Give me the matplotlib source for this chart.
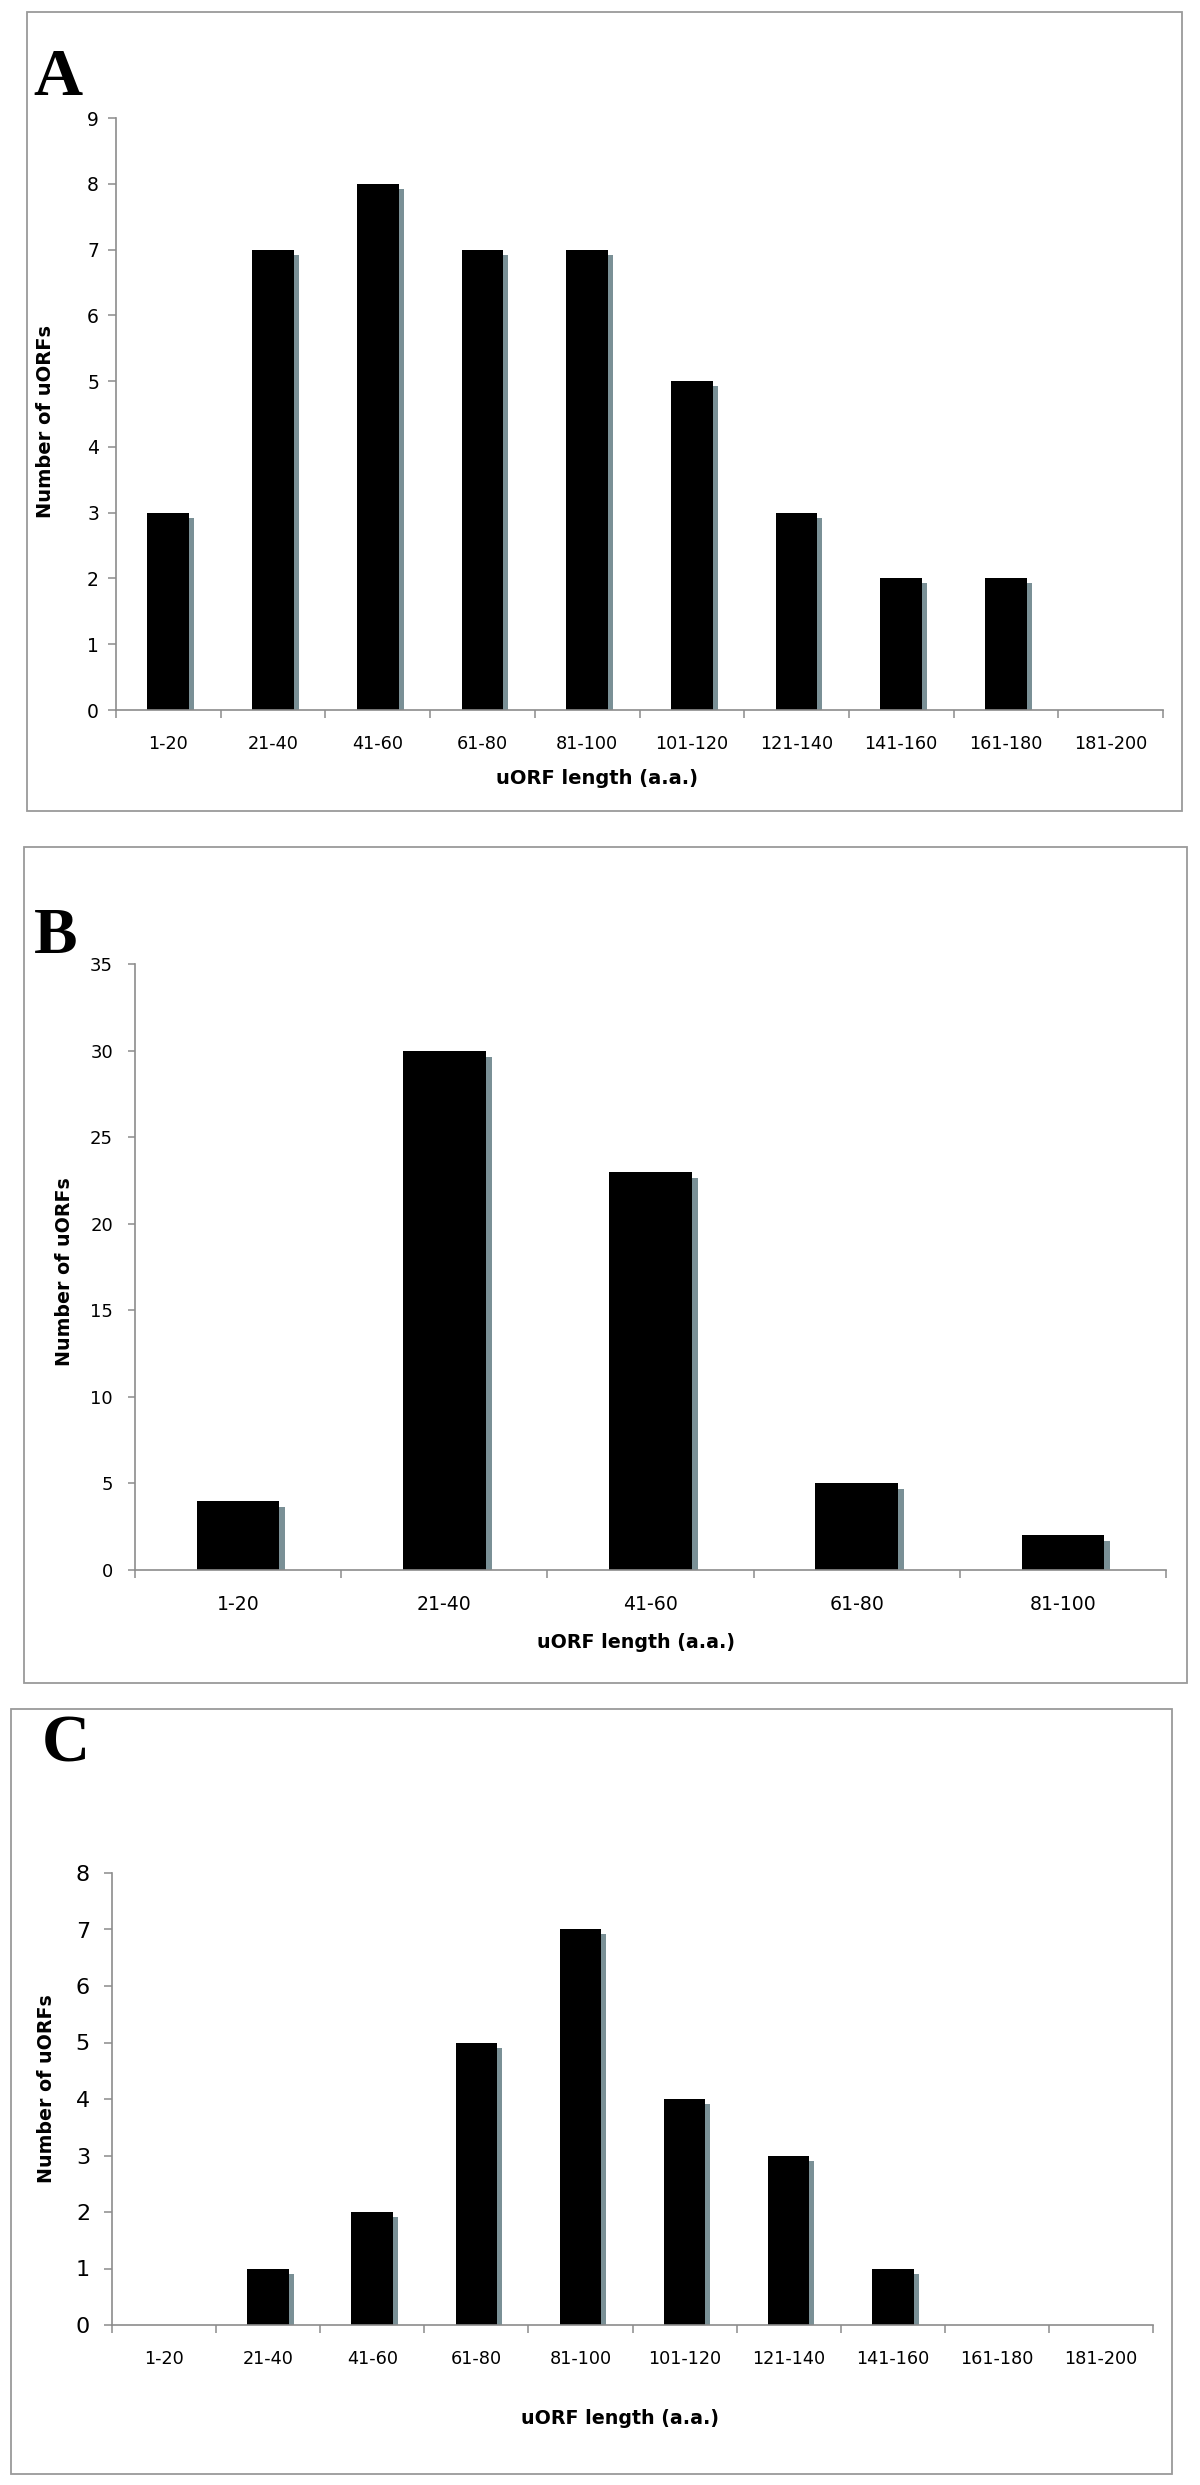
import matplotlib
matplotlib.use("Agg")
import matplotlib.pyplot as plt
from matplotlib.patches import Rectangle
from matplotlib.transforms import offset_copy
import numpy as np

W, H = 1200, 2485
DPI = 100

cats10 = ["1-20", "21-40", "41-60", "61-80", "81-100", "101-120",
          "121-140", "141-160", "161-180", "181-200"]
cats5 = ["1-20", "21-40", "41-60", "61-80", "81-100"]

values_A = [3, 7, 8, 7, 7, 5, 3, 2, 2, 0]
values_B = [4, 30, 23, 5, 2]
values_C = [0, 1, 2, 5, 7, 4, 3, 1, 0, 0]

yticks_A = list(range(0, 10, 1))
yticks_B = list(range(0, 40, 5))
yticks_C = list(range(0, 9, 1))

xlabel_text = "uORF length (a.a.)"
ylabel_text = "Number of uORFs"

fig = plt.figure(figsize=(W / DPI, H / DPI), dpi=DPI)

GRAY = "#8c8c8c"
SHADOW = "#7a9096"


def fx(x):
    return x / W


def fy(y):
    return 1 - y / H


def box(x0, y0, x1, y1):
    r = Rectangle((fx(x0), fy(y1)), fx(x1) - fx(x0), fy(y0) - fy(y1),
                  transform=fig.transFigure, fill=False, edgecolor="#9a9a9a",
                  linewidth=1.3)
    fig.patches.append(r)


def panel(letter, letter_xy, letter_size, outer, axpx, cats, vals, yticks,
          xtick_fs, ytick_fs, ypad, ytlen, label_fs, ylabel_xy, xlabel_xy,
          shadow_off):
    box(*outer)
    x0, y0, x1, y1 = axpx
    ax = fig.add_axes([fx(x0), fy(y1), fx(x1) - fx(x0), fy(y0) - fy(y1)])
    n = len(cats)
    xs = np.arange(n)
    sh = offset_copy(ax.transData, fig=fig, x=shadow_off, y=-shadow_off,
                     units="dots")
    ax.bar(xs, vals, width=0.4, color=SHADOW, transform=sh, zorder=1)
    ax.bar(xs, vals, width=0.4, color="black", zorder=2)
    ax.set_xlim(-0.5, n - 0.5)
    ax.set_ylim(yticks[0], yticks[-1])
    for s in ["top", "right"]:
        ax.spines[s].set_visible(False)
    for s in ["left", "bottom"]:
        ax.spines[s].set_color(GRAY)
        ax.spines[s].set_linewidth(1.2)
    ax.set_yticks(yticks)
    ax.set_yticklabels([str(t) for t in yticks], fontsize=ytick_fs,
                       fontfamily="DejaVu Sans")
    ax.set_xticks(np.arange(-0.5, n, 1.0))
    ax.set_xticklabels([])
    ax.set_xticks(xs, minor=True)
    ax.set_xticklabels(cats, minor=True, fontsize=xtick_fs,
                       fontfamily="DejaVu Sans")
    ax.tick_params(axis="y", direction="out", length=ytlen * 72 / DPI,
                   width=1.1, color=GRAY, pad=ypad * 72 / DPI)
    ax.tick_params(axis="x", which="major", direction="out", length=5.5,
                   width=1.1, color=GRAY)
    ax.tick_params(axis="x", which="minor", length=0, pad=18)
    ax.set_facecolor("none")
    fig.text(fx(letter_xy[0]), fy(letter_xy[1]), letter,
             fontsize=letter_size, fontweight="bold",
             fontfamily="Liberation Serif", ha="left", va="baseline")
    fig.text(fx(ylabel_xy[0]), fy(ylabel_xy[1]), ylabel_text, rotation=90,
             fontsize=label_fs, fontweight="bold", fontfamily="DejaVu Sans",
             ha="center", va="center")
    fig.text(fx(xlabel_xy[0]), fy(xlabel_xy[1]), xlabel_text,
             fontsize=label_fs, fontweight="bold", fontfamily="DejaVu Sans",
             ha="center", va="center")
    return ax


panel("A", (33, 95), 49, (27, 12, 1182, 811), (116, 118, 1163, 710),
      cats10, values_A, yticks_A, 12.7, 13.5, 9, 8, 14, (46, 421), (597, 779), 5)
panel("B", (34, 953), 47, (24, 847, 1187, 1683), (135, 964, 1166, 1570),
      cats5, values_B, yticks_B, 13.6, 13, 15, 7, 13.7, (65, 1272), (636, 1642), 6)
panel("C", (42, 1761), 48, (11, 1709, 1172, 2474), (112, 1873, 1153, 2325),
      cats10, values_C, yticks_C, 12.7, 16, 14, 8, 13.7, (47, 2089), (620, 2418), 5)

fig.savefig("out.png", dpi=DPI, facecolor="white")
